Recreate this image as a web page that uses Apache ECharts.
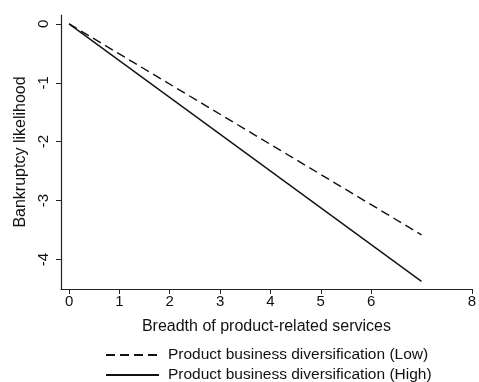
<!DOCTYPE html>
<html><head><meta charset="utf-8">
<script src="https://cdn.jsdelivr.net/npm/echarts@6/dist/echarts.min.js"></script>
<style>html,body{margin:0;padding:0;background:#fff}#c{width:479px;height:382px}</style>
</head><body><div id="c"></div>
<script>
const xValues = [0, 7];
const lowSeries = [0, -3.58];
const highSeries = [0, -4.37];
const xTicks = [0, 1, 2, 3, 4, 5, 6, 8];
const yTicks = [0, -1, -2, -3, -4];
const seriesNames = ['Product business diversification (Low)', 'Product business diversification (High)'];
const xTitle = 'Breadth of product-related services';
const yTitle = 'Bankruptcy likelihood';

const font = 'Liberation Sans, Arial, Helvetica, sans-serif';
const chart = echarts.init(document.getElementById('c'), null, {renderer: 'canvas'});
const legendBase = {
  show: true, orient: 'vertical', left: 105, itemWidth: 53, itemHeight: 12,
  itemStyle: {opacity: 0},
  textStyle: {fontFamily: font, fontSize: 15.5, color: '#111', padding: [0,0,0,4], lineHeight: 16},
  padding: 0
};
chart.setOption({
  backgroundColor: '#fff',
  animation: false,
  grid: {left: 61, right: 3, top: 15, bottom: 93, containLabel: false},
  xAxis: {
    type: 'value', min: -0.16, max: 8,
    name: xTitle, nameLocation: 'middle', nameGap: 30,
    nameTextStyle: {fontFamily: font, fontSize: 16, color: '#111'},
    axisLine: {show: true, onZero: false, lineStyle: {color: '#222', width: 1.2}},
    axisTick: {show: true, length: 5, customValues: xTicks, lineStyle: {color: '#222'}},
    axisLabel: {customValues: xTicks, fontFamily: font, fontSize: 15, color: '#111', margin: 5},
    splitLine: {show: false}
  },
  yAxis: {
    type: 'value', min: -4.5, max: 0.15,
    name: yTitle, nameLocation: 'middle', nameGap: 29, nameRotate: 90,
    nameTextStyle: {fontFamily: font, fontSize: 16, color: '#111'},
    axisLine: {show: true, onZero: false, lineStyle: {color: '#222', width: 1.2}},
    axisTick: {show: true, length: 5, customValues: yTicks, lineStyle: {color: '#222'}},
    axisLabel: {customValues: yTicks, rotate: 90, fontFamily: font, fontSize: 15, color: '#111', margin: 10},
    splitLine: {show: false}
  },
  legend: [
    Object.assign({}, legendBase, {top: 347, data: [seriesNames[0]]}),
    Object.assign({}, legendBase, {top: 367, data: [seriesNames[1]]})
  ],
  series: [
    {name: seriesNames[0], type: 'line', symbol: 'none', data: xValues.map((x,i)=>[x, lowSeries[i]]),
     lineStyle: {color: '#111', width: 1.4, type: [9, 5]}, itemStyle: {color: '#111'}},
    {name: seriesNames[1], type: 'line', symbol: 'none', data: xValues.map((x,i)=>[x, highSeries[i]]),
     lineStyle: {color: '#111', width: 1.4, type: 'solid'}, itemStyle: {color: '#111'}}
  ]
});
</script></body></html>
